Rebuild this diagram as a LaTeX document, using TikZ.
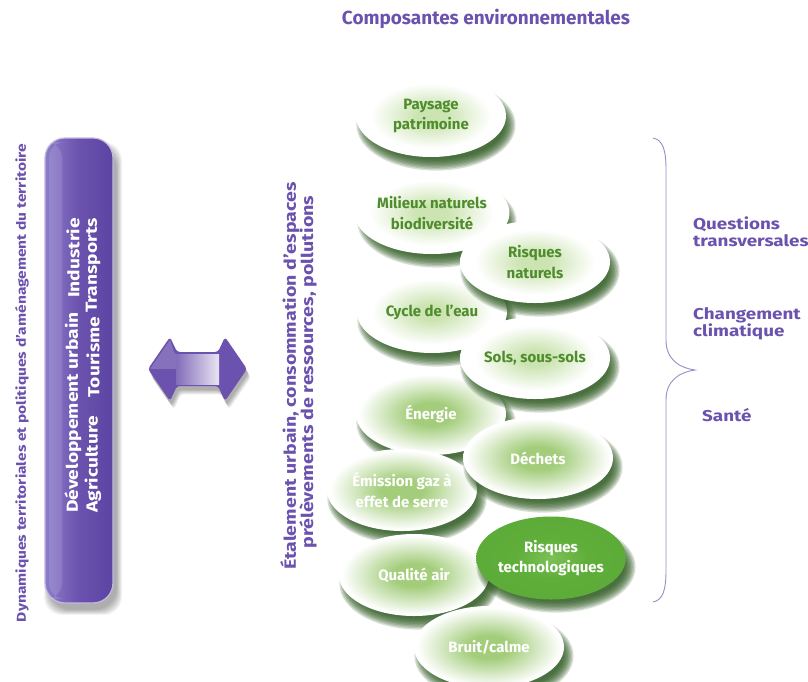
\documentclass[tikz,border=0pt]{standalone}
\usepackage{fontspec}
\setmainfont{Fira Sans}
\newfontfamily\widefont{Fira Sans}[FakeStretch=1.2]
\usetikzlibrary{shapes.geometric}

% palette
\definecolor{purp}{HTML}{6B52AE}
\definecolor{purpdark}{HTML}{5A44A2}
\definecolor{purplight}{HTML}{8D7CC9}
\definecolor{leaf}{HTML}{4E8C2C}
\definecolor{shadowgreen}{HTML}{2B581E}
\definecolor{glowpale}{HTML}{CCE4B2}
\definecolor{glowrich}{HTML}{A3CD7B}
\definecolor{techgreen}{HTML}{5FAE3A}
\definecolor{techlight}{HTML}{7CC157}
\definecolor{techdark}{HTML}{58A635}
\definecolor{bracec}{HTML}{9A8CC4}

% soft green glow in the middle of the white discs
\pgfdeclareradialshading{paleglow}{\pgfpoint{0bp}{0bp}}{color(0bp)=(glowpale); color(5bp)=(glowpale); color(20bp)=(white); color(50bp)=(white)}
\pgfdeclareradialshading{richglow}{\pgfpoint{0bp}{0bp}}{color(0bp)=(glowrich); color(7bp)=(glowrich); color(24bp)=(white); color(50bp)=(white)}
\pgfdeclareradialshading{techglow}{\pgfpoint{0bp}{0bp}}{color(0bp)=(techlight); color(12bp)=(techgreen); color(50bp)=(techdark)}

\tikzset{
  blob/.style={ellipse, minimum width=150pt, minimum height=82pt, inner sep=0pt,
    align=center, font=\bfseries\fontsize{15}{20.5}\selectfont},
  paleblob/.style={blob, shading=paleglow, text=leaf},
  richblob/.style={blob, shading=richglow, text=white},
  techblob/.style={blob, shading=techglow, text=white, minimum width=146pt, minimum height=83pt},
  purpletext/.style={text=purp, font=\widefont\bfseries\fontsize{15.7}{17}\selectfont, inner sep=0pt},
  pilltext/.style={text=white, rotate=90, inner sep=0pt, font=\widefont\bfseries\fontsize{16}{18}\selectfont},
  sidecaption/.style={text=purp, rotate=90, inner sep=0pt, font=\widefont\bfseries},
}

% blurred green shadow under a disc centred at (#1,#2)
\newcommand\blobshadow[2]{%
  \foreach \k in {1,...,9}{%
    \fill[shadowgreen, opacity=0.19] (#1+5,#2+9) ellipse [x radius={81-1.4*\k}, y radius={47-1.4*\k}];
  }}

% outline of the double arrow
\newcommand\twowaypath{(148,369) -- (170,337) -- (177,352) -- (218,352) -- (225,337) -- (247,369) -- (225,401) -- (218,386) -- (177,386) -- (170,401) -- cycle}

\begin{document}
\begin{tikzpicture}[x=1pt, y=-1pt]
\useasboundingbox (0,0) rectangle (808,681);
\fill[white] (0,0) rectangle (808,681);

% heading
\node[text=purp, inner sep=0pt, font=\bfseries] (title) at (486,19) {\resizebox{288pt}{!}{Composantes environnementales}};

% side caption
\node[sidecaption] (dyn) at (22,383)
  {\resizebox{478pt}{!}{Dynamiques territoriales et politiques d’aménagement du territoire}};

% purple pill with its shadow
\foreach \k in {1,...,10}{%
  \fill[black, opacity=0.035, rounded corners={22-\k*0.4}] ({45+5-\k*0.6},{138+10-\k*0.6}) rectangle ({113+3+\k*0.6},{603+6+\k*0.6});
}
\draw[rounded corners=20pt, draw=white!60!purp, line width=1.2pt,
      left color=purplight, right color=purpdark, middle color=purp]
  (45,138) rectangle (113,603);
\fill[white, opacity=0.12, rounded corners=16pt] (49,142) rectangle (62,599);

\node[pilltext, anchor=west] (dev) at (73,513) {Développement urbain};
\node[pilltext, anchor=east] (ind) at (73,218) {Industrie};
\node[pilltext, anchor=west] (agr) at (93,513) {Agriculture};
\node[pilltext] (tou) at (93,357) {Tourisme};
\node[pilltext, anchor=east] (tra) at (93,218) {Transports};

% double arrow
\foreach \k in {1,...,6}{%
  \fill[black, opacity=0.06, shift={({1+\k*0.5},{3+\k*0.9})}, rounded corners=3pt] \twowaypath;
}
\fill[purp, rounded corners=3pt] \twowaypath;
\fill[left color=purp!85!white, right color=purp!15!white] (176,354) rectangle (219,384);
\fill[white, opacity=0.18] (150,369) -- (170,340) -- (174,352) -- (176,354) -- (176,369) -- cycle;

% middle caption
\node[sidecaption] (etal) at (290,376)
  {\resizebox{387pt}{!}{Étalement urbain, consommation d’espaces}};
\node[sidecaption] (prel) at (308,372)
  {\resizebox{353pt}{!}{prélèvements de ressources, pollutions}};

% left column of discs
\blobshadow{431}{116}
\node[paleblob] (paysage) at (431,116) {Paysage\\patrimoine};
\blobshadow{432}{213}
\node[paleblob] (milieux) at (432,213) {Milieux naturels\\biodiversité};
\blobshadow{432}{312}
\node[paleblob] (cycle) at (432,312) {Cycle de l’eau};
\blobshadow{431}{414}
\node[richblob] (energie) at (431,414) {Énergie};
\blobshadow{402}{490}
\node[richblob] (emission) at (402,490) {Émission gaz à\\effet de serre};
\blobshadow{414}{575}
\node[richblob] (qualite) at (414,575) {Qualité air};

% right column of discs
\blobshadow{535}{262}
\node[paleblob] (rnat) at (535,262) {Risques\\naturels};
\blobshadow{535}{358}
\node[paleblob] (sols) at (535,358) {Sols, sous-sols};
\blobshadow{538}{458}
\node[richblob] (dechets) at (538,458) {Déchets};
\blobshadow{551}{558}
\node[techblob] (rtech) at (551,558) {Risques\\technologiques};

% bottom disc
\blobshadow{489}{647}
\node[richblob] (bruit) at (489,647) {Bruit/calme};

% brace and cross-cutting themes
\draw[bracec, line width=0.9pt]
  (653,138) .. controls (663,140) and (666,150) .. (666,170) -- (666,340)
  .. controls (666,360) and (680,368) .. (695,370)
  .. controls (680,372) and (666,380) .. (666,400) -- (666,570)
  .. controls (666,590) and (663,600) .. (653,602);

\node[purpletext, anchor=west, align=left] (quest) at (693,232) {Questions\\transversales};
\node[purpletext, anchor=west, align=left] (clim) at (693,324) {Changement\\climatique};
\node[purpletext, anchor=west] (sante) at (702,415) {Santé};
\end{tikzpicture}
\end{document}
